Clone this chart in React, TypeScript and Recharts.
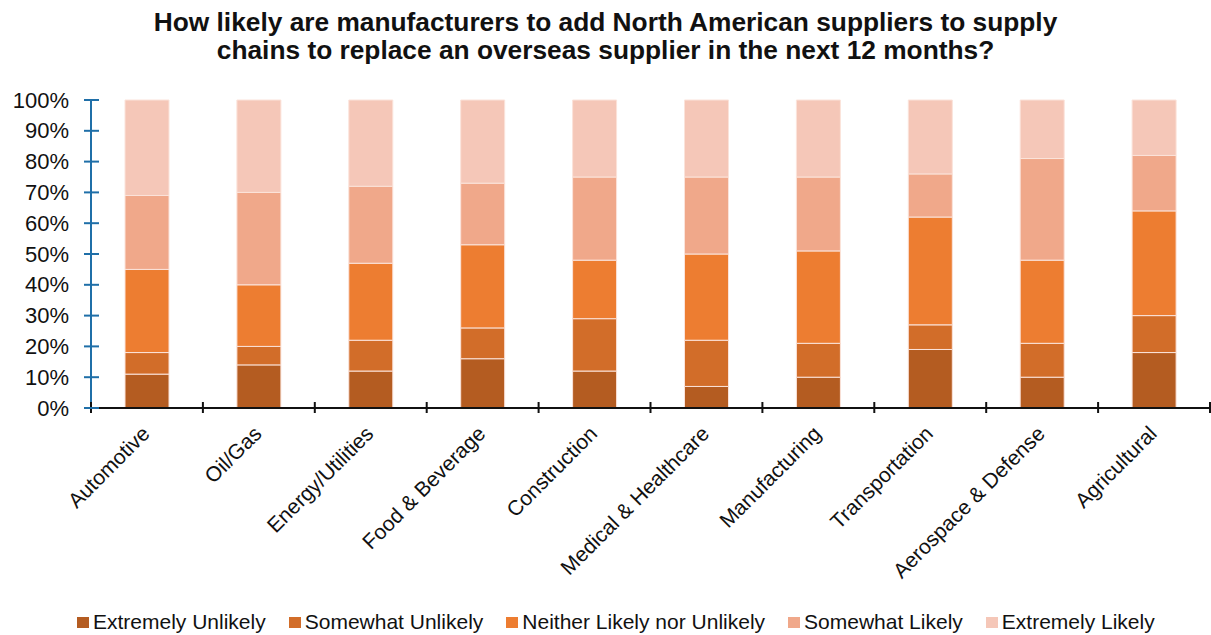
import { BarChart, Bar, XAxis, YAxis, Legend } from "recharts";

const categories = [
  "Automotive",
  "Oil/Gas",
  "Energy/Utilities",
  "Food & Beverage",
  "Construction",
  "Medical & Healthcare",
  "Manufacturing",
  "Transportation",
  "Aerospace & Defense",
  "Agricultural",
];

// percent of respondents, bottom to top
const extremelyUnlikely = [11, 14, 12, 16, 12, 7, 10, 19, 10, 18];
const somewhatUnlikely = [7, 6, 10, 10, 17, 15, 11, 8, 11, 12];
const neitherLikely = [27, 20, 25, 27, 19, 28, 30, 35, 27, 34];
const somewhatLikely = [24, 30, 25, 20, 27, 25, 24, 14, 33, 18];
const extremelyLikely = [31, 30, 28, 27, 25, 25, 25, 24, 19, 18];

const yTicks = [0, 10, 20, 30, 40, 50, 60, 70, 80, 90, 100];

const seriesNames = [
  "Extremely Unlikely",
  "Somewhat Unlikely",
  "Neither Likely nor Unlikely",
  "Somewhat Likely",
  "Extremely Likely",
];
const seriesKeys = ["eu", "su", "ne", "sl", "el"];
const seriesColors = ["#B45C21", "#D26D29", "#ED7D31", "#F0A88A", "#F5C7B8"];

const data = categories.map((name, i) => ({
  name,
  eu: extremelyUnlikely[i],
  su: somewhatUnlikely[i],
  ne: neitherLikely[i],
  sl: somewhatLikely[i],
  el: extremelyLikely[i],
}));

const FONT = '"Liberation Sans", Arial, sans-serif';
const W = 1211;
const H = 635;
const Y_AXIS_W = 91;
const RIGHT = 1;
const X_AXIS_H = 227;
const PLOT_W = W - Y_AXIS_W - RIGHT;
const AXIS_BLUE = "#1F6FA8";

function YTick({ x, y, payload }: any) {
  return (
    <g>
      <line x1={x - 7} x2={x + 8} y1={y} y2={y} stroke={AXIS_BLUE} strokeWidth={2} />
      <text
        x={x - 22}
        y={y}
        textAnchor="end"
        dominantBaseline="central"
        fontSize={22}
        fontFamily={FONT}
        fill="#111"
      >
        {payload.value}%
      </text>
    </g>
  );
}

function XTick({ x, y, payload, index }: any) {
  const half = PLOT_W / categories.length / 2;
  const last = index === categories.length - 1;
  return (
    <g>
      <line x1={x - half} x2={x - half} y1={y - 6} y2={y + 5} stroke="#111" strokeWidth={2} />
      {last && (
        <line x1={x + half} x2={x + half} y1={y - 6} y2={y + 5} stroke="#111" strokeWidth={2} />
      )}
      <text
        x={x + 4}
        y={y + 27}
        textAnchor="end"
        fontSize={21}
        fontFamily={FONT}
        fill="#111"
        transform={`rotate(-45, ${x + 4}, ${y + 27})`}
      >
        {payload.value}
      </text>
    </g>
  );
}

function LegendContent() {
  return (
    <div
      style={{
        display: "flex",
        alignItems: "center",
        whiteSpace: "nowrap",
        fontFamily: FONT,
        fontSize: 21,
        color: "#111",
      }}
    >
      {seriesNames.map((n, i) => (
        <div key={n} style={{ display: "flex", alignItems: "center", marginRight: 23 }}>
          <span
            style={{ width: 12, height: 11, background: seriesColors[i], marginRight: 4, display: "inline-block" }}
          />
          <span>{n}</span>
        </div>
      ))}
    </div>
  );
}

export default function App() {
  return (
    <div style={{ position: "absolute", left: 0, top: 0, width: W, height: H, background: "#fff" }}>
      <div
        style={{
          position: "absolute",
          left: 0,
          top: 8,
          width: W,
          textAlign: "center",
          fontFamily: FONT,
          fontWeight: "bold",
          fontSize: 26.3,
          lineHeight: "28px",
          color: "#111",
        }}
      >
        How likely are manufacturers to add North American suppliers to supply
        <br />
        chains to replace an overseas supplier in the next 12 months?
      </div>
      <BarChart
        width={W}
        height={H}
        data={data}
        margin={{ top: 100, right: RIGHT, bottom: 0, left: 0 }}
        barCategoryGap={0}
      >
        <XAxis
          dataKey="name"
          interval={0}
          height={X_AXIS_H}
          axisLine={{ stroke: "#111", strokeWidth: 2 }}
          tickLine={false}
          tickSize={0}
          tickMargin={0}
          tick={<XTick />}
        />
        <YAxis
          width={Y_AXIS_W}
          domain={[0, 100]}
          ticks={yTicks}
          interval={0}
          axisLine={{ stroke: AXIS_BLUE, strokeWidth: 2 }}
          tickLine={false}
          tickSize={0}
          tickMargin={0}
          tick={<YTick />}
        />
        <Legend
          verticalAlign="middle"
          align="center"
          content={<LegendContent />}
          wrapperStyle={{ top: 610, left: 77, width: 1130 }}
        />
        {seriesKeys.map((k, i) => (
          <Bar
            key={k}
            dataKey={k}
            name={seriesNames[i]}
            stackId="a"
            fill={seriesColors[i]}
            stroke="#FBE3DA"
            strokeWidth={1}
            barSize={44}
            isAnimationActive={false}
          />
        ))}
      </BarChart>
    </div>
  );
}
